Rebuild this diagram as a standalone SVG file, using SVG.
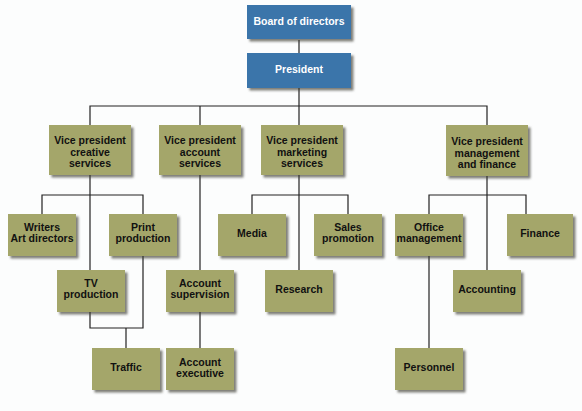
<svg xmlns="http://www.w3.org/2000/svg" width="582" height="411" viewBox="0 0 582 411">
<defs>
<filter id="sh" x="-10%" y="-10%" width="130%" height="130%">
<feDropShadow dx="2.5" dy="2.5" stdDeviation="1" flood-color="#3a3a30" flood-opacity="0.65"/>
</filter>
</defs>
<style>
.blue{fill:#3b74aa;filter:url(#sh)}
.olive{fill:#a4a66b;filter:url(#sh)}
.tw{font-family:"Liberation Sans",Arial,sans-serif;font-weight:bold;font-size:10.5px;fill:#ffffff;text-anchor:middle}
.tk{font-family:"Liberation Sans",Arial,sans-serif;font-weight:bold;font-size:10.5px;fill:#111111;text-anchor:middle}
.ln{fill:none;stroke:#222222;stroke-width:1.2}
</style>
<rect x="0" y="0" width="582" height="411" fill="#fcfdfd"/>
<g id="connectors">
<path class="ln" d="M299,40 V53"/>
<path class="ln" d="M299,88 V125"/>
<path class="ln" d="M90,125 V106 H487 V125"/>
<path class="ln" d="M200,106 V125"/>
<path class="ln" d="M90,175 V270"/>
<path class="ln" d="M42,214 V195 H143 V214"/>
<path class="ln" d="M143,256 V328 H90 V312"/>
<path class="ln" d="M126,328 V348"/>
<path class="ln" d="M200,175 V270"/>
<path class="ln" d="M200,312 V348"/>
<path class="ln" d="M299,175 V270"/>
<path class="ln" d="M252,214 V195 H348 V214"/>
<path class="ln" d="M487,175 V270"/>
<path class="ln" d="M429,214 V195 H526 V214"/>
<path class="ln" d="M429,256 V348"/>
</g>
<g id="board"><rect class="blue" x="247" y="5" width="104" height="34"/><text class="tw" x="299" y="24.5">Board of directors</text></g>
<g id="president"><rect class="blue" x="247" y="53" width="104" height="35"/><text class="tw" x="299" y="73">President</text></g>
<g id="vp-creative"><rect class="olive" x="49" y="125" width="82" height="50"/><text class="tk" x="90" y="144">Vice president</text><text class="tk" x="90" y="155.5">creative</text><text class="tk" x="90" y="167">services</text></g>
<g id="vp-account"><rect class="olive" x="159" y="125" width="82" height="50"/><text class="tk" x="200" y="144">Vice president</text><text class="tk" x="200" y="155.5">account</text><text class="tk" x="200" y="167">services</text></g>
<g id="vp-marketing"><rect class="olive" x="261" y="125" width="82" height="50"/><text class="tk" x="302" y="144">Vice president</text><text class="tk" x="302" y="155.5">marketing</text><text class="tk" x="302" y="167">services</text></g>
<g id="vp-management"><rect class="olive" x="446" y="125" width="82" height="51"/><text class="tk" x="487" y="145">Vice president</text><text class="tk" x="487" y="156.5">management</text><text class="tk" x="487" y="168">and finance</text></g>
<g id="writers"><rect class="olive" x="8" y="214" width="68" height="42"/><text class="tk" x="42" y="231">Writers</text><text class="tk" x="42" y="242">Art directors</text></g>
<g id="print"><rect class="olive" x="109" y="214" width="68" height="42"/><text class="tk" x="143" y="231">Print</text><text class="tk" x="143" y="242">production</text></g>
<g id="tv"><rect class="olive" x="57" y="270" width="68" height="42"/><text class="tk" x="91" y="287">TV</text><text class="tk" x="91" y="298">production</text></g>
<g id="traffic"><rect class="olive" x="92" y="348" width="68" height="42"/><text class="tk" x="126" y="371">Traffic</text></g>
<g id="account-supervision"><rect class="olive" x="166" y="270" width="68" height="42"/><text class="tk" x="200" y="287">Account</text><text class="tk" x="200" y="298">supervision</text></g>
<g id="account-executive"><rect class="olive" x="166" y="348" width="68" height="42"/><text class="tk" x="200" y="365.5">Account</text><text class="tk" x="200" y="376.5">executive</text></g>
<g id="media"><rect class="olive" x="218" y="214" width="68" height="42"/><text class="tk" x="252" y="237">Media</text></g>
<g id="research"><rect class="olive" x="265" y="270" width="68" height="42"/><text class="tk" x="299" y="293">Research</text></g>
<g id="sales"><rect class="olive" x="314" y="214" width="68" height="42"/><text class="tk" x="348" y="231">Sales</text><text class="tk" x="348" y="242">promotion</text></g>
<g id="office"><rect class="olive" x="395" y="214" width="68" height="42"/><text class="tk" x="429" y="231">Office</text><text class="tk" x="429" y="242">management</text></g>
<g id="finance"><rect class="olive" x="507" y="214" width="66" height="42"/><text class="tk" x="540" y="237">Finance</text></g>
<g id="accounting"><rect class="olive" x="453" y="270" width="68" height="42"/><text class="tk" x="487" y="293">Accounting</text></g>
<g id="personnel"><rect class="olive" x="395" y="348" width="68" height="42"/><text class="tk" x="429" y="370.5">Personnel</text></g>
</svg>
